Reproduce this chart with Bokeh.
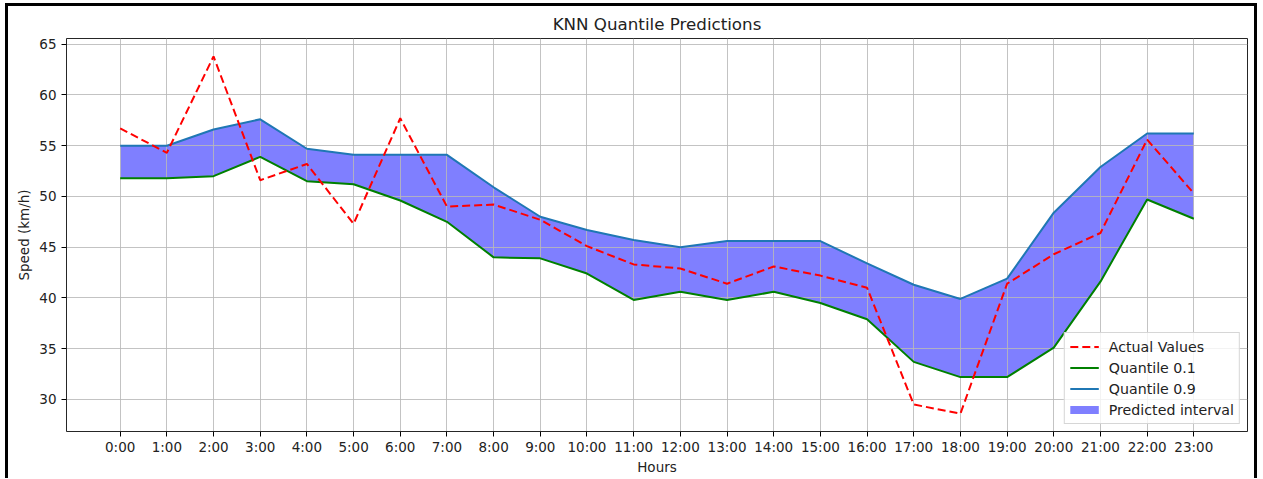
from bokeh.plotting import figure
from bokeh.models import Range1d, FixedTicker, Legend, LegendItem, ColumnDataSource
from bokeh.embed import file_html
from bokeh.resources import INLINE

hour_labels = ["0:00", "1:00", "2:00", "3:00", "4:00", "5:00", "6:00", "7:00",
               "8:00", "9:00", "10:00", "11:00", "12:00", "13:00", "14:00", "15:00",
               "16:00", "17:00", "18:00", "19:00", "20:00", "21:00", "22:00", "23:00"]
actual = [56.7, 54.3, 63.8, 51.6, 53.2, 47.3, 57.7, 49.0, 49.2, 47.7, 45.1, 43.3,
          42.9, 41.4, 43.1, 42.2, 41.0, 29.5, 28.6, 41.4, 44.3, 46.4, 55.6, 50.3]
q10 = [51.8, 51.8, 52.0, 53.9, 51.5, 51.2, 49.6, 47.5, 44.0, 43.9, 42.4, 39.8,
       40.6, 39.8, 40.6, 39.5, 37.9, 33.7, 32.2, 32.2, 35.1, 41.6, 49.7, 47.8]
q90 = [55.0, 55.0, 56.6, 57.6, 54.7, 54.1, 54.1, 54.1, 50.9, 48.0, 46.7, 45.7,
       45.0, 45.6, 45.6, 45.6, 43.4, 41.3, 39.9, 41.9, 48.4, 52.9, 56.2, 56.2]
y_ticks = [30, 35, 40, 45, 50, 55, 60, 65]

FONT = "DejaVu Sans"
TXT = "#222222"
W, H = 1246, 472

xs = list(range(len(hour_labels)))
src = ColumnDataSource(dict(x=xs, actual=actual, q10=q10, q90=q90))

p = figure(width=W, height=H, output_backend="svg", toolbar_location=None,
           x_range=Range1d(-1.15, 24.15), y_range=Range1d(26.84, 65.56),
           min_border_left=58, min_border_right=13, min_border_top=32, min_border_bottom=50)

p.styles = {"border": "3px solid black", "border-bottom": "none",
            "box-sizing": "content-box", "margin-left": "5px", "margin-top": "3px"}

p.title.text = "KNN Quantile Predictions"
p.title.align = "center"
p.title.text_font = FONT
p.title.text_font_size = "16.7px"
p.title.text_font_style = "normal"
p.title.text_color = TXT
p.title.standoff = 10

p.outline_line_color = "black"
p.outline_line_alpha = 0.85
p.outline_line_width = 1

for ax in (p.xaxis[0], p.yaxis[0]):
    ax.axis_line_color = None
    ax.major_tick_line_color = "black"
    ax.major_tick_out = 5
    ax.major_tick_in = 0
    ax.minor_tick_line_color = None
    ax.major_label_text_font = FONT
    ax.major_label_text_font_size = "13.5px"
    ax.major_label_text_color = TXT
    ax.axis_label_text_font = FONT
    ax.axis_label_text_font_size = "13.5px"
    ax.axis_label_text_font_style = "normal"
    ax.axis_label_text_color = TXT

p.xaxis.ticker = FixedTicker(ticks=xs)
p.xaxis.major_label_overrides = {i: lab for i, lab in zip(xs, hour_labels)}
p.xaxis.axis_label = "Hours"
p.xaxis.major_label_standoff = 2
p.xaxis.axis_label_standoff = 1

p.yaxis.ticker = FixedTicker(ticks=y_ticks)
p.yaxis.axis_label = "Speed (km/h)"
p.yaxis.major_label_standoff = 5
p.yaxis.axis_label_standoff = 4

for g in (p.xgrid[0], p.ygrid[0]):
    g.grid_line_color = "#b8b8b8"
    g.grid_line_width = 1
    g.grid_line_alpha = 0.85

band = p.varea(x="x", y1="q10", y2="q90", source=src, fill_color="blue",
               fill_alpha=0.5, level="image")
band_proxy = p.line(x=[0], y=[float("nan")], line_color="blue", line_alpha=0.5, line_width=8)
l10 = p.line(x="x", y="q10", source=src, line_color="green", line_width=2)
l90 = p.line(x="x", y="q90", source=src, line_color="#1f77b4", line_width=2)
la = p.line(x="x", y="actual", source=src, line_color="red", line_width=2,
            line_dash="8 4")

legend = Legend(items=[
    LegendItem(label="Actual Values", renderers=[la]),
    LegendItem(label="Quantile 0.1", renderers=[l10]),
    LegendItem(label="Quantile 0.9", renderers=[l90]),
    LegendItem(label="Predicted interval", renderers=[band_proxy]),
])
legend.location = "bottom_right"
legend.margin = 7
legend.padding = 5
legend.spacing = 4
legend.glyph_width = 29
legend.glyph_height = 17
legend.label_height = 17
legend.label_standoff = 10
legend.label_text_font = FONT
legend.label_text_font_size = "14.2px"
legend.label_text_color = TXT
legend.border_line_color = "#cccccc"
legend.border_line_alpha = 0.8
legend.background_fill_alpha = 0.8
p.add_layout(legend)

open("out.html", "w").write(file_html(p, INLINE))
